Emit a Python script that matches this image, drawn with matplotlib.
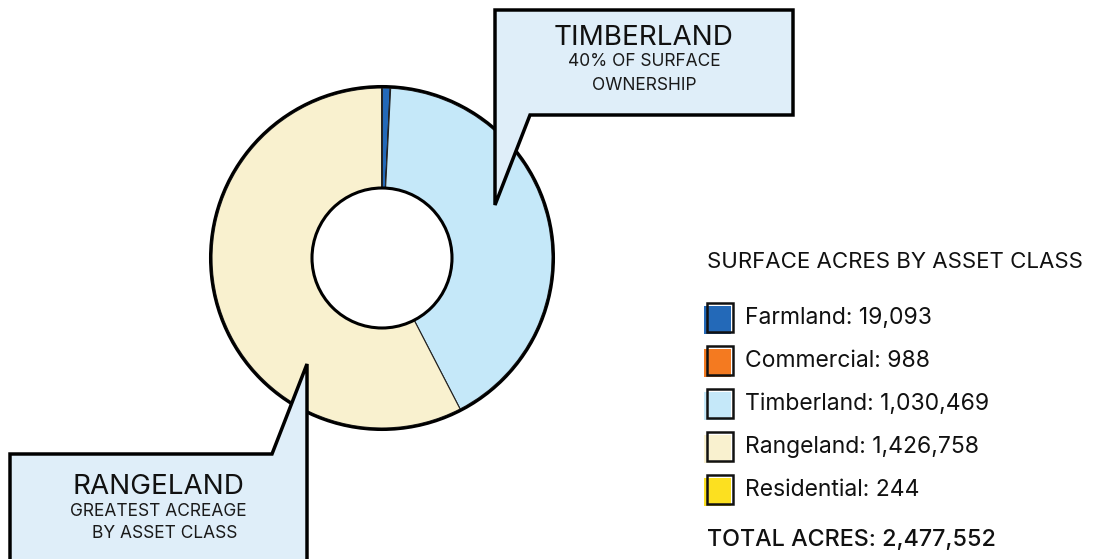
import matplotlib.pyplot as plt
from matplotlib.patches import Polygon, Rectangle, Circle

categories = ['Farmland', 'Commercial', 'Timberland', 'Rangeland', 'Residential']
acres = [19093, 988, 1030469, 1426758, 244]
colors = ['#2369B8', '#F47A20', '#C5E8F9', '#F9F1CF', '#FCE020']
callout_fill = '#DFEEF9'

plt.rcParams['font.family'] = ['Inter', 'DejaVu Sans']

W, H = 1101, 559
fig = plt.figure(figsize=(W / 100, H / 100), dpi=100)
ax = fig.add_axes([0, 0, 1, 1])

cx, cy, r_out, r_in = 382, 258, 170, 70

# y axis is flipped below, so counterclock in data = clockwise on screen
ax.pie(acres, colors=colors, center=(cx, cy), radius=r_out,
       startangle=-90, counterclock=True,
       wedgeprops=dict(width=r_out - r_in, edgecolor='#222222',
                       linewidth=0.8))
ax.add_patch(Circle((cx, cy), r_out + 1.5, fill=False, ec='black', lw=2.2,
                    zorder=3))
ax.add_patch(Circle((cx, cy), r_in, fill=False, ec='black', lw=2.2,
                    zorder=3))

ax.set_xlim(0, W)
ax.set_ylim(H, 0)
ax.set_aspect('equal')
ax.axis('off')

# callout boxes
timber = [(495, 10), (793, 10), (793, 115), (530, 115), (495, 205)]
ax.add_patch(Polygon(timber, closed=True, fc=callout_fill, ec='black',
                     lw=2.5, joinstyle='miter', zorder=4))
range_box = [(10, 575), (10, 454), (272, 454), (307, 364), (307, 575)]
ax.add_patch(Polygon(range_box, closed=True, fc=callout_fill, ec='black',
                     lw=2.5, joinstyle='miter', zorder=4))

ax.text(644, 38, 'TIMBERLAND', fontsize=20, ha='center', va='center',
        color='#111111', zorder=5)
ax.text(644, 62, '40% OF SURFACE', fontsize=12.5, ha='center',
        va='center', color='#1a1a1a', zorder=5)
ax.text(644, 86, 'OWNERSHIP', fontsize=12.5, ha='center',
        va='center', color='#1a1a1a', zorder=5)

ax.text(158, 487, 'RANGELAND', fontsize=20, ha='center', va='center',
        color='#111111', zorder=5)
ax.text(158, 512, 'GREATEST ACREAGE', fontsize=12.5, ha='center',
        va='center', color='#1a1a1a', zorder=5)
ax.text(165, 534, 'BY ASSET CLASS', fontsize=12.5, ha='center',
        va='center', color='#1a1a1a', zorder=5)

# legend
ax.text(707, 262, 'SURFACE ACRES BY ASSET CLASS', fontsize=16,
        ha='left', va='center', color='#111111')
for i, (name, val, col) in enumerate(zip(categories, acres, colors)):
    y = 318 + i * 43
    ax.add_patch(Rectangle((704, y - 12), 27, 28, fc=col, ec='none'))
    ax.add_patch(Rectangle((707, y - 15), 26, 29, fill=False, ec='#111111',
                           lw=1.8))
    ax.text(745, y, f'{name}: {val:,}', fontsize=16.5, ha='left',
            va='center', color='#111111')

ax.text(707, 540, f'TOTAL ACRES: {sum(acres):,}', fontsize=16.8,
        fontweight='medium', ha='left', va='center', color='#111111')

fig.savefig('out.png', dpi=100)
